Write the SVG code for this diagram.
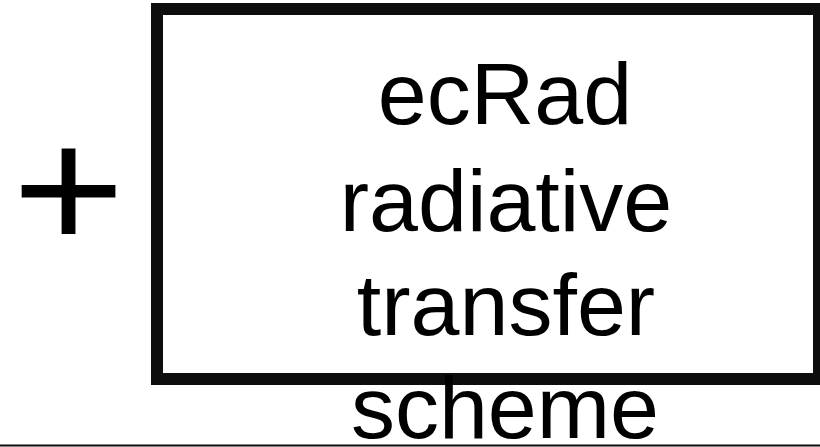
<svg xmlns="http://www.w3.org/2000/svg" width="820" height="447" viewBox="0 0 820 447">
  <style>
    .lbl { font-family: "Liberation Sans", Arial, sans-serif; fill: #000; }
    .big { font-size: 88px; text-anchor: middle; }
    .box { fill: none; stroke: #0d0d0d; stroke-width: 12; }
  </style>
  <rect width="820" height="447" fill="#fff"/>
  <!-- plus operator, slightly flattened -->
  <g id="plus">
    <text class="lbl" transform="translate(68.5 249.4) scale(1 0.9)" x="0" y="0" font-size="193" text-anchor="middle">+</text>
  </g>
  <!-- ecRad block -->
  <g id="ecrad">
    <rect class="box" x="157" y="9" width="662" height="370"/>
    <text class="lbl big" x="505" y="124">ecRad</text>
    <text class="lbl big" x="506" y="231">radiative</text>
    <text class="lbl big" x="506" y="335">transfer</text>
    <text class="lbl big" x="505" y="438">scheme</text>
  </g>
  <!-- baseline rule -->
  <g id="connectors">
    <line x1="0" y1="445.5" x2="820" y2="445.5" stroke="#0d0d0d" stroke-width="2"/>
  </g>
</svg>
